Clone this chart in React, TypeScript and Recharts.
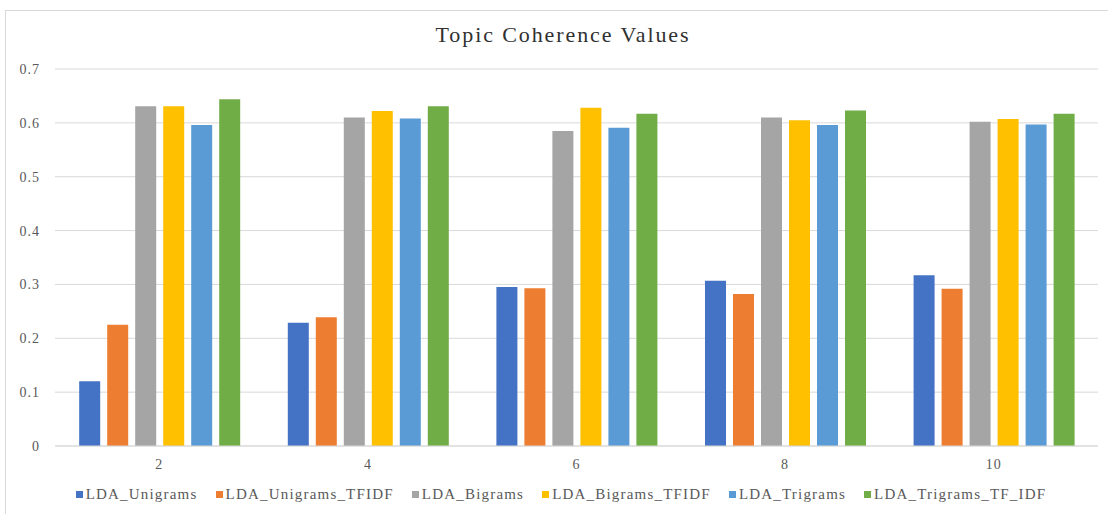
import { BarChart, Bar, XAxis, YAxis, CartesianGrid } from 'recharts'

const topics = ['2', '4', '6', '8', '10']
const unigrams = [0.12, 0.229, 0.295, 0.307, 0.317]
const unigramsTfidf = [0.225, 0.239, 0.293, 0.282, 0.292]
const bigrams = [0.631, 0.61, 0.585, 0.61, 0.602]
const bigramsTfidf = [0.631, 0.622, 0.628, 0.605, 0.607]
const trigrams = [0.596, 0.608, 0.591, 0.596, 0.597]
const trigramsTfidf = [0.644, 0.631, 0.617, 0.623, 0.617]
const yTicks = [0, 0.1, 0.2, 0.3, 0.4, 0.5, 0.6, 0.7]

const series = [
  { key: 'LDA_Unigrams', values: unigrams, fill: '#4472C4' },
  { key: 'LDA_Unigrams_TFIDF', values: unigramsTfidf, fill: '#ED7D31' },
  { key: 'LDA_Bigrams', values: bigrams, fill: '#A5A5A5' },
  { key: 'LDA_Bigrams_TFIDF', values: bigramsTfidf, fill: '#FFC000' },
  { key: 'LDA_Trigrams', values: trigrams, fill: '#5B9BD5' },
  { key: 'LDA_Trigrams_TF_IDF', values: trigramsTfidf, fill: '#70AD47' }
]

const data = topics.map((t, i) => {
  const row: any = { topic: t }
  series.forEach((s) => { row[s.key] = s.values[i] })
  return row
})

const serif = '"Liberation Serif", "Times New Roman", serif'

export default function App() {
  return (
    <div style={{ position: 'absolute', left: 0, top: 0, width: 1108, height: 514, overflow: 'hidden', background: '#fff', fontFamily: serif }}>
      <div style={{ position: 'absolute', left: 5, top: 10, width: 1120, height: 520, border: '1px solid #d9d9d9' }} />
      <div style={{ position: 'absolute', top: 22, left: 0, width: 1126, textAlign: 'center', fontSize: 22, letterSpacing: 1.9, color: '#303030' }}>
        Topic Coherence Values
      </div>
      <BarChart
        width={1108}
        height={514}
        data={data}
        margin={{ top: 69, right: 10, left: 0, bottom: 38 }}
        barCategoryGap="11.6%"
        barGap={7}
        style={{ position: 'absolute', left: 0, top: 0 }}
      >
        <CartesianGrid vertical={false} stroke="#d9d9d9" />
        <XAxis
          dataKey="topic"
          axisLine={{ stroke: '#d9d9d9' }}
          tickLine={false}
          tickMargin={7}
          tick={{ fill: '#595959', fontSize: 14, fontFamily: serif, letterSpacing: 1 }}
        />
        <YAxis
          width={55}
          domain={[0, 0.7]}
          ticks={yTicks}
          axisLine={false}
          tickLine={false}
          tickMargin={9}
          tick={{ fill: '#595959', fontSize: 14, fontFamily: serif, letterSpacing: 1 }}
        />
        {series.map((s) => (
          <Bar key={s.key} dataKey={s.key} fill={s.fill} isAnimationActive={false} />
        ))}
      </BarChart>
      <div style={{ position: 'absolute', top: 486, left: 16, width: 1108, display: 'flex', justifyContent: 'center', fontSize: 15, letterSpacing: 1.2, color: '#595959' }}>
        {series.map((s) => (
          <div key={s.key} style={{ display: 'flex', alignItems: 'center', marginRight: 18 }}>
            <span style={{ display: 'inline-block', width: 7, height: 7, background: s.fill, marginRight: 3 }} />
            {s.key}
          </div>
        ))}
      </div>
    </div>
  )
}
